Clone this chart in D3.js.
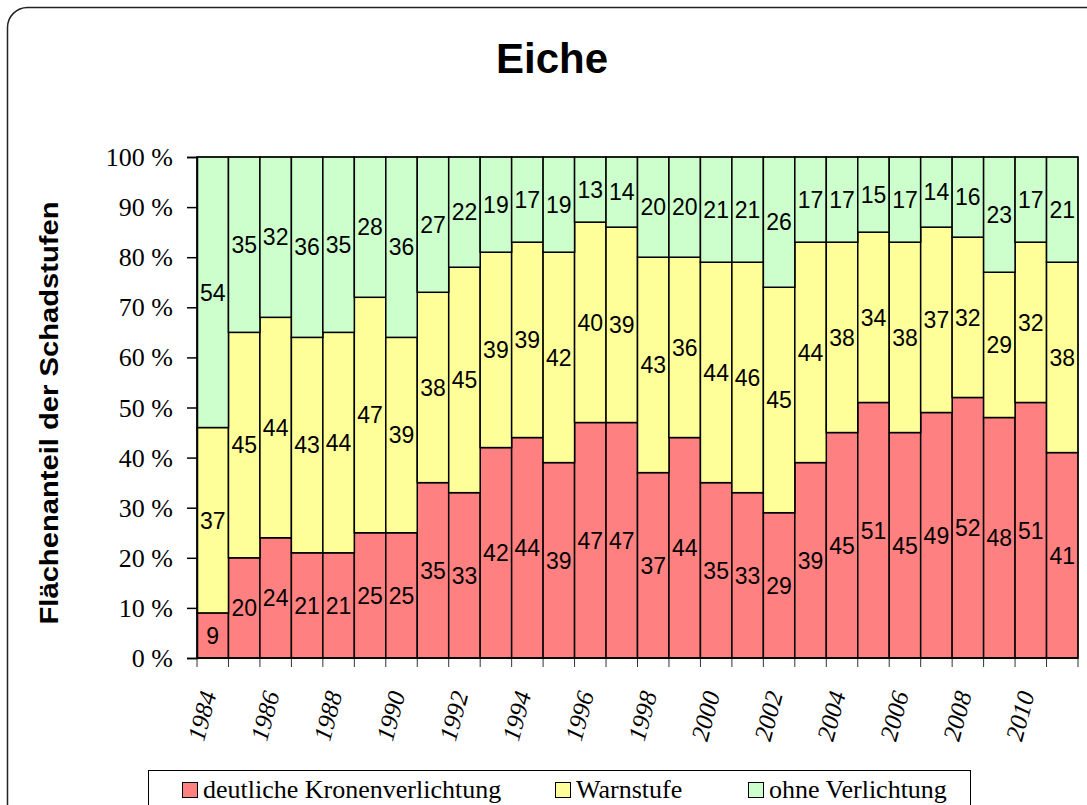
<!DOCTYPE html>
<html>
<head>
<meta charset="utf-8">
<script src="https://cdn.jsdelivr.net/npm/d3@7"></script>
<style>
  body { margin: 0; background: #fff; }
  svg { display: block; }
</style>
</head>
<body>
<div id="wrapper"></div>
<script>
// DATA
const years = d3.range(1984, 2012);
const deutliche = [9, 20, 24, 21, 21, 25, 25, 35, 33, 42, 44, 39, 47, 47, 37, 44, 35, 33, 29, 39, 45, 51, 45, 49, 52, 48, 51, 41];
const warnstufe = [37, 45, 44, 43, 44, 47, 39, 38, 45, 39, 39, 42, 40, 39, 43, 36, 44, 46, 45, 44, 38, 34, 38, 37, 32, 29, 32, 38];
const ohne = [54, 35, 32, 36, 35, 28, 36, 27, 22, 19, 17, 19, 13, 14, 20, 20, 21, 21, 26, 17, 17, 15, 17, 14, 16, 23, 17, 21];
const seriesNames = [`deutliche Kronenverlichtung`, `Warnstufe`, `ohne Verlichtung`];
const seriesColors = [`#ff8080`, `#ffff99`, `#ccffcc`];
const yTicks = [0, 10, 20, 30, 40, 50, 60, 70, 80, 90, 100];

// LAYOUT
const W = 1087, H = 805;
const margin = { top: 157, right: 9, bottom: 147, left: 197 };
const width = W - margin.left - margin.right;
const height = H - margin.top - margin.bottom;
const SANS = `Arial, 'Liberation Sans', sans-serif`;
const SERIF = `'Times New Roman', 'Liberation Serif', serif`;

const svg = d3.select(`#wrapper`)
  .append(`svg`)
  .attr(`width`, W)
  .attr(`height`, H);

// outer frame
svg.append(`rect`)
  .attr(`x`, 7.5).attr(`y`, 7.5)
  .attr(`width`, W + 20).attr(`height`, H + 20)
  .attr(`rx`, 20)
  .attr(`fill`, `none`)
  .attr(`stroke`, `#222`)
  .attr(`stroke-width`, 1.5);

svg.append(`text`)
  .attr(`x`, 552).attr(`y`, 73)
  .attr(`text-anchor`, `middle`)
  .attr(`font-family`, SANS)
  .attr(`font-weight`, `bold`)
  .attr(`font-size`, 42)
  .text(`Eiche`);

const g = svg.append(`g`)
  .attr(`transform`, `translate(${margin.left}, ${margin.top})`);

// SCALES
const xScale = d3.scaleBand()
  .domain(years)
  .range([0, width])
  .padding(0);

const yScale = d3.scaleLinear()
  .domain([0, 100])
  .range([height, 0]);

const table = years.map((year, i) => ({ year, d: deutliche[i], w: warnstufe[i], o: ohne[i] }));
const stacked = d3.stack().keys([`d`, `w`, `o`])(table);

// BARS
const layers = g.selectAll(`.layer`)
  .data(stacked)
  .join(`g`)
  .attr(`class`, `layer`)
  .attr(`fill`, (d, i) => seriesColors[i]);

layers.selectAll(`rect`)
  .data(d => d)
  .join(`rect`)
  .attr(`x`, d => xScale(d.data.year))
  .attr(`y`, d => yScale(d[1]))
  .attr(`width`, xScale.bandwidth())
  .attr(`height`, d => yScale(d[0]) - yScale(d[1]))
  .attr(`stroke`, `#000`)
  .attr(`stroke-width`, 1.5);

// LABELS
layers.selectAll(`text`)
  .data(d => d)
  .join(`text`)
  .attr(`x`, d => xScale(d.data.year) + xScale.bandwidth() / 2)
  .attr(`y`, d => yScale((d[0] + d[1]) / 2))
  .attr(`dy`, `0.36em`)
  .attr(`text-anchor`, `middle`)
  .attr(`fill`, `#000`)
  .attr(`font-family`, SANS)
  .attr(`font-size`, 23)
  .text(d => d[1] - d[0]);

// plot frame
g.append(`rect`)
  .attr(`width`, width).attr(`height`, height)
  .attr(`fill`, `none`)
  .attr(`stroke`, `#000`)
  .attr(`stroke-width`, 1);

// AXES
const yAxis = d3.axisLeft(yScale)
  .tickValues(yTicks)
  .tickSize(10)
  .tickFormat(d => `${d} %`);

g.append(`g`)
  .call(yAxis)
  .call(ax => {
    ax.select(`.domain`).attr(`stroke`, `#000`).attr(`stroke-width`, 1.5);
    ax.selectAll(`.tick line`).attr(`stroke`, `#000`).attr(`stroke-width`, 1.5);
    ax.selectAll(`.tick text`)
      .attr(`x`, -24)
      .attr(`dy`, `0.33em`)
      .attr(`font-family`, SERIF)
      .attr(`font-size`, 26)
      .attr(`fill`, `#000`);
  });

// x ticks on bar boundaries
const boundaries = years.map(y => xScale(y)).concat([width]);
g.append(`g`)
  .attr(`transform`, `translate(0, ${height})`)
  .selectAll(`line`)
  .data(boundaries)
  .join(`line`)
  .attr(`x1`, d => d).attr(`x2`, d => d)
  .attr(`y1`, 0).attr(`y2`, 9)
  .attr(`stroke`, `#333`)
  .attr(`stroke-width`, 1);

g.append(`line`)
  .attr(`x1`, 0).attr(`x2`, width)
  .attr(`y1`, height).attr(`y2`, height)
  .attr(`stroke`, `#000`).attr(`stroke-width`, 1.5);

g.append(`g`)
  .selectAll(`text`)
  .data(years.filter(y => y % 2 === 0))
  .join(`text`)
  .attr(`transform`, d => `translate(${xScale(d) + xScale.bandwidth() / 2 + 4}, ${height + 36}) rotate(-75)`)
  .attr(`text-anchor`, `end`)
  .attr(`font-family`, SERIF)
  .attr(`font-style`, `italic`)
  .attr(`font-size`, 25)
  .text(d => d);

// Y TITLE
svg.append(`text`)
  .attr(`transform`, `translate(58, 413) rotate(-90)`)
  .attr(`text-anchor`, `middle`)
  .attr(`font-family`, SANS)
  .attr(`font-weight`, `bold`)
  .attr(`font-size`, 25)
  .attr(`textLength`, 423)
  .attr(`lengthAdjust`, `spacingAndGlyphs`)
  .text(`Flächenanteil der Schadstufen`);

// LEGEND
const legend = svg.append(`g`);
legend.append(`rect`)
  .attr(`x`, 148.5).attr(`y`, 770.5)
  .attr(`width`, 822).attr(`height`, 50)
  .attr(`fill`, `#fff`)
  .attr(`stroke`, `#000`)
  .attr(`stroke-width`, 1);

const legendX = [182, 555, 748];
const items = legend.selectAll(`.item`)
  .data(seriesNames)
  .join(`g`)
  .attr(`class`, `item`)
  .attr(`transform`, (d, i) => `translate(${legendX[i]}, 790)`);

items.append(`rect`)
  .attr(`x`, 0.5).attr(`y`, -7.5)
  .attr(`width`, 15).attr(`height`, 15)
  .attr(`fill`, (d, i) => seriesColors[i])
  .attr(`stroke`, `#000`)
  .attr(`stroke-width`, 1);

items.append(`text`)
  .attr(`x`, 21)
  .attr(`y`, 8)
  .attr(`font-family`, SERIF)
  .attr(`font-size`, 26)
  .text(d => d);
</script>
</body>
</html>
